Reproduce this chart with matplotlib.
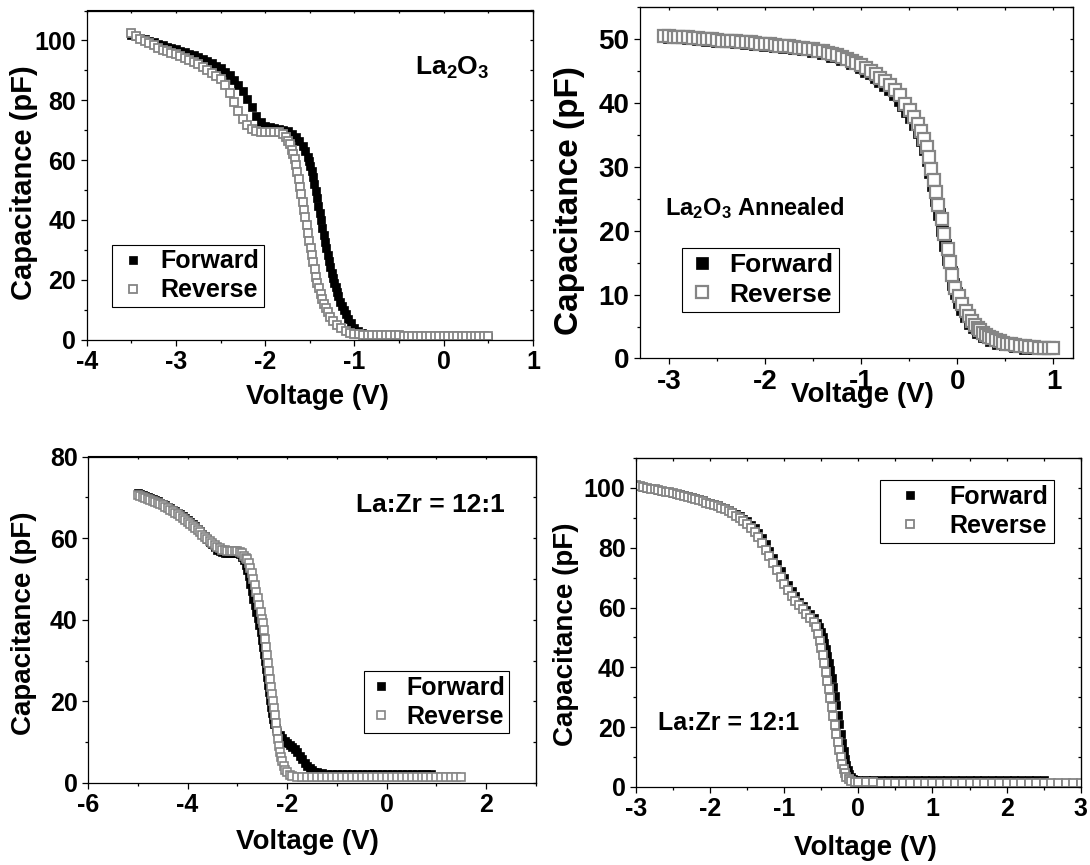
import matplotlib
matplotlib.use('Agg')
import matplotlib.pyplot as plt
from matplotlib.ticker import MultipleLocator

plt.rcParams['font.family'] = ['Liberation Sans', 'DejaVu Sans']
plt.rcParams['font.weight'] = 'bold'
plt.rcParams['axes.labelweight'] = 'bold'
plt.rcParams['axes.unicode_minus'] = False
plt.rcParams['mathtext.fontset'] = 'custom'
plt.rcParams['mathtext.rm'] = 'Liberation Sans:bold'
plt.rcParams['mathtext.it'] = 'Liberation Sans:bold'
plt.rcParams['mathtext.bf'] = 'Liberation Sans:bold'
plt.rcParams['mathtext.default'] = 'rm'

# ---------------- data (voltage V, capacitance pF) ----------------
series_labels = ["Forward", "Reverse"]
x_label = "Voltage (V)"
y_label = "Capacitance (pF)"
panel_titles = ["La$_2$O$_3$", "La$_2$O$_3$ Annealed", "La:Zr = 12:1", "La:Zr = 12:1"]

# Panel 1: La2O3
p1_fwd = [(-3.50,101.8),(-3.45,101.4),(-3.40,100.9),(-3.35,100.4),(-3.30,99.9),(-3.25,99.4),(-3.20,98.9),
          (-3.15,98.4),(-3.10,97.9),(-3.05,97.5),(-3.00,97.0),(-2.95,96.5),(-2.90,96.0),(-2.85,95.5),(-2.80,95.0),
          (-2.75,94.4),(-2.70,93.7),(-2.65,93.0),(-2.60,92.3),(-2.55,91.5),(-2.50,90.7),(-2.45,89.6),(-2.40,88.3),
          (-2.35,86.8),(-2.30,85.1),(-2.25,83.0),(-2.20,80.5),(-2.15,77.6),(-2.10,74.8),(-2.05,72.7),(-2.00,71.5),
          (-1.95,70.9),(-1.90,70.6),(-1.85,70.4),(-1.80,70.1),(-1.75,69.6),(-1.70,68.8),(-1.66,67.8),(-1.62,66.4),
          (-1.58,64.6),(-1.55,62.9),(-1.525,61.0),(-1.51,59.6),(-1.495,58.0),(-1.48,56.2),(-1.465,54.2),(-1.45,52.0),
          (-1.435,49.7),(-1.42,47.3),(-1.405,44.8),(-1.39,42.3),(-1.375,39.8),(-1.36,37.4),(-1.345,35.0),(-1.33,32.7),
          (-1.315,30.5),(-1.30,28.4),(-1.285,26.2),(-1.27,24.2),(-1.255,22.3),(-1.24,20.6),(-1.225,19.0),(-1.21,17.4),
          (-1.195,15.9),(-1.18,14.5),(-1.16,12.7),(-1.14,11.1),(-1.12,9.7),(-1.10,8.4),(-1.07,6.8),(-1.04,5.4),
          (-1.00,4.0),(-0.96,3.0),(-0.92,2.2),(-0.88,1.6),(-0.84,1.3),(-0.80,1.1),(-0.75,1.0),(-0.70,0.9),(-0.65,0.9),
          (-0.60,0.9),(-0.55,0.9),(-0.50,0.9),(-0.45,0.9),(-0.40,0.9),(-0.35,0.9),(-0.30,0.9),(-0.25,0.9),(-0.20,0.9),
          (-0.15,0.9),(-0.10,0.9),(-0.05,0.9),(0.00,0.9),(0.05,0.9),(0.10,0.9),(0.15,0.9),(0.20,0.9),(0.25,0.9),
          (0.30,0.9),(0.35,0.9),(0.40,0.9),(0.45,0.9),(0.50,0.9)]
p1_rev = [(-3.50,102.5),(-3.45,101.4),(-3.40,100.6),(-3.35,99.8),(-3.30,99.0),(-3.25,98.3),(-3.20,97.6),
          (-3.15,96.9),(-3.10,96.3),(-3.05,95.8),(-3.00,95.3),(-2.95,94.7),(-2.90,94.1),(-2.85,93.4),(-2.80,92.7),
          (-2.75,92.0),(-2.70,91.1),(-2.65,90.2),(-2.60,89.2),(-2.55,88.2),(-2.50,87.0),(-2.45,85.0),(-2.40,82.5),
          (-2.35,79.5),(-2.30,76.3),(-2.25,73.8),(-2.20,71.8),(-2.15,70.5),(-2.10,69.8),(-2.05,69.5),(-2.00,69.5),
          (-1.95,69.5),(-1.90,69.5),(-1.85,69.3),(-1.80,68.7),(-1.77,67.8),(-1.74,66.5),(-1.72,65.2),(-1.70,63.5),
          (-1.685,62.0),(-1.67,60.2),(-1.655,58.2),(-1.64,56.0),(-1.625,53.6),(-1.61,51.1),(-1.595,48.6),(-1.58,46.0),
          (-1.565,43.4),(-1.55,40.8),(-1.535,38.2),(-1.52,35.6),(-1.505,33.0),(-1.49,30.5),(-1.475,28.1),(-1.46,25.8),
          (-1.445,23.6),(-1.43,20.9),(-1.415,19.0),(-1.40,17.2),(-1.38,15.2),(-1.36,13.5),(-1.34,12.0),(-1.32,10.5),
          (-1.30,9.1),(-1.27,7.5),(-1.24,6.2),(-1.20,5.0),(-1.15,3.8),(-1.10,2.9),(-1.05,2.3),(-1.00,1.9),(-0.95,1.7),
          (-0.90,1.6),(-0.85,1.6),(-0.80,1.5),(-0.75,1.5),(-0.70,1.5),(-0.65,1.4),(-0.60,1.4),(-0.55,1.4),(-0.50,1.4),
          (-0.45,1.3),(-0.40,1.3),(-0.35,1.3),(-0.30,1.3),(-0.25,1.3),(-0.20,1.3),(-0.15,1.3),(-0.10,1.2),(-0.05,1.2),
          (0.00,1.2),(0.05,1.2),(0.10,1.2),(0.15,1.2),(0.20,1.2),(0.25,1.2),(0.30,1.2),(0.35,1.2),(0.40,1.2),
          (0.45,1.2),(0.50,1.2)]

# Panel 2: La2O3 annealed
p2_fwd = [(-3.00,50.4),(-2.90,50.3),(-2.80,50.2),(-2.70,50.1),(-2.60,49.9),(-2.50,49.8),(-2.40,49.7),(-2.30,49.6),
          (-2.20,49.4),(-2.10,49.3),(-2.00,49.1),(-1.90,49.0),(-1.80,48.8),(-1.70,48.6),(-1.60,48.4),(-1.50,48.1),
          (-1.40,47.8),(-1.30,47.4),(-1.20,46.9),(-1.10,46.3),(-1.00,45.6),(-0.95,45.1),(-0.90,44.7),(-0.85,44.1),
          (-0.80,43.5),(-0.75,42.9),(-0.70,42.2),(-0.65,41.4),(-0.60,40.5),(-0.56,39.7),(-0.52,38.8),(-0.48,37.8),
          (-0.44,36.7),(-0.40,35.4),(-0.37,34.2),(-0.34,32.8),(-0.31,31.1),(-0.28,29.2),(-0.25,27.1),(-0.22,24.9),
          (-0.19,22.6),(-0.16,20.2),(-0.13,17.8),(-0.10,15.6),(-0.07,13.5),(-0.04,11.7),(-0.01,10.2),(0.02,8.9),
          (0.05,7.8),(0.09,6.6),(0.13,5.6),(0.17,4.9),(0.22,4.1),(0.28,3.5),(0.35,2.9),(0.42,2.5),(0.50,2.2),
          (0.60,1.9),(0.70,1.7),(0.80,1.6),(0.90,1.6),(1.00,1.6)]
p2_rev = [(-3.05,50.5),(-3.00,50.5),(-2.95,50.4),(-2.90,50.4),(-2.85,50.3),(-2.80,50.3),(-2.75,50.2),(-2.70,50.2),
          (-2.65,50.1),(-2.60,50.0),(-2.55,50.0),(-2.50,49.9),(-2.45,49.8),(-2.40,49.8),(-2.35,49.7),(-2.30,49.7),
          (-2.25,49.6),(-2.20,49.5),(-2.15,49.5),(-2.10,49.4),(-2.05,49.3),(-2.00,49.3),(-1.95,49.2),(-1.90,49.1),
          (-1.85,49.0),(-1.80,49.0),(-1.75,48.9),(-1.70,48.8),(-1.65,48.7),(-1.60,48.6),(-1.55,48.5),(-1.50,48.4),
          (-1.45,48.2),(-1.40,48.1),(-1.35,47.9),(-1.30,47.7),(-1.25,47.5),(-1.20,47.2),(-1.15,46.9),(-1.10,46.6),
          (-1.05,46.3),(-1.00,45.9),(-0.95,45.5),(-0.90,45.1),(-0.85,44.6),(-0.80,44.0),(-0.75,43.4),(-0.70,42.8),
          (-0.65,42.0),(-0.60,41.2),(-0.543,39.9),(-0.496,38.9),(-0.453,37.8),(-0.409,36.8),(-0.373,35.7),
          (-0.344,34.4),(-0.315,33.1),(-0.297,31.5),(-0.272,29.7),(-0.247,27.9),(-0.225,26.0),(-0.200,24.0),
          (-0.164,21.9),(-0.135,19.5),(-0.099,17.2),(-0.081,15.1),(-0.055,13.0),(-0.019,11.1),(0.017,9.8),
          (0.053,8.5),(0.089,7.5),(0.12,6.6),(0.15,5.9),(0.18,5.3),(0.21,4.8),(0.24,4.4),(0.27,4.0),(0.30,3.7),
          (0.33,3.4),(0.36,3.2),(0.40,2.9),(0.44,2.7),(0.48,2.5),(0.52,2.3),(0.56,2.2),(0.60,2.1),(0.65,2.0),
          (0.70,1.9),(0.75,1.8),(0.80,1.8),(0.85,1.7),(0.90,1.7),(0.95,1.7),(1.00,1.7)]

# Panel 3: La:Zr = 12:1 (left)
p3_fwd = [(-5.00,71.0),(-4.95,70.7),(-4.90,70.5),(-4.85,70.3),(-4.80,70.0),(-4.75,69.8),(-4.70,69.5),(-4.65,69.3),
          (-4.60,69.0),(-4.55,68.7),(-4.50,68.4),(-4.45,68.1),(-4.40,67.7),(-4.35,67.4),(-4.30,67.0),(-4.25,66.6),
          (-4.20,66.2),(-4.15,65.8),(-4.10,65.3),(-4.05,64.9),(-4.00,64.4),(-3.95,63.9),(-3.90,63.4),(-3.85,62.9),
          (-3.80,62.3),(-3.75,61.7),(-3.70,61.1),(-3.65,60.5),(-3.60,59.8),(-3.55,59.1),(-3.50,58.5),(-3.45,57.8),
          (-3.40,57.2),(-3.35,56.8),(-3.30,56.5),(-3.25,56.4),(-3.20,56.4),(-3.15,56.4),(-3.10,56.4),(-3.05,56.4),
          (-3.00,56.3),(-2.95,56.0),(-2.90,55.4),(-2.86,54.6),(-2.83,53.5),(-2.80,52.2),(-2.77,50.6),(-2.74,48.8),
          (-2.71,47.0),(-2.68,45.2),(-2.65,43.5),(-2.62,41.9),(-2.59,40.4),(-2.56,38.8),(-2.53,37.0),(-2.50,35.0),
          (-2.48,33.4),(-2.46,31.6),(-2.44,29.8),(-2.42,27.9),(-2.40,26.0),(-2.38,24.1),(-2.36,22.2),(-2.34,20.4),
          (-2.32,18.7),(-2.30,17.1),(-2.28,15.7),(-2.26,14.5),(-2.23,13.4),(-2.20,12.6),(-2.15,11.7),(-2.10,11.0),
          (-2.05,10.4),(-2.00,9.9),(-1.95,9.4),(-1.90,8.9),(-1.85,8.3),(-1.80,7.6),(-1.75,6.7),(-1.70,5.8),
          (-1.65,4.9),(-1.60,4.2),(-1.55,3.6),(-1.50,3.1),(-1.45,2.8),(-1.40,2.6),(-1.30,2.4),(-1.20,2.3),
          (-1.10,2.2),(-1.00,2.2),(-0.90,2.2),(-0.80,2.2),(-0.70,2.2),(-0.60,2.2),(-0.50,2.2),(-0.40,2.2),
          (-0.30,2.2),(-0.20,2.2),(-0.10,2.2),(0.00,2.2),(0.10,2.2),(0.20,2.2),(0.30,2.2),(0.40,2.1),(0.50,2.1),
          (0.60,2.1),(0.70,2.1),(0.80,2.1),(0.90,2.1)]
p3_rev = [(-5.00,70.5),(-4.95,70.3),(-4.90,70.1),(-4.85,69.9),(-4.80,69.6),(-4.75,69.4),(-4.70,69.1),(-4.65,68.9),
          (-4.60,68.6),(-4.55,68.3),(-4.50,68.0),(-4.45,67.7),(-4.40,67.3),(-4.35,67.0),(-4.30,66.6),(-4.25,66.2),
          (-4.20,65.8),(-4.15,65.4),(-4.10,64.9),(-4.05,64.5),(-4.00,64.0),(-3.95,63.5),(-3.90,63.0),(-3.85,62.5),
          (-3.80,61.9),(-3.75,61.4),(-3.70,60.8),(-3.65,60.3),(-3.60,59.7),(-3.55,59.2),(-3.50,58.7),(-3.45,58.2),
          (-3.40,57.8),(-3.35,57.5),(-3.30,57.2),(-3.25,57.0),(-3.20,56.9),(-3.15,56.8),(-3.10,56.8),(-3.05,56.8),
          (-3.00,56.8),(-2.95,56.6),(-2.90,56.3),(-2.86,55.7),(-2.83,55.2),(-2.80,54.8),(-2.77,53.9),(-2.74,52.8),
          (-2.71,51.4),(-2.68,49.9),(-2.65,48.4),(-2.62,46.9),(-2.59,45.3),(-2.56,43.6),(-2.53,41.9),(-2.50,40.2),
          (-2.48,39.2),(-2.46,37.4),(-2.44,35.4),(-2.42,33.4),(-2.40,31.4),(-2.38,29.4),(-2.36,27.4),(-2.34,25.4),
          (-2.32,23.5),(-2.30,21.7),(-2.28,20.0),(-2.26,18.3),(-2.24,16.6),(-2.22,14.7),(-2.20,12.8),(-2.18,10.8),
          (-2.16,9.0),(-2.14,7.5),(-2.12,6.3),(-2.10,5.3),(-2.07,4.2),(-2.04,3.3),(-2.00,2.6),(-1.95,2.0),(-1.90,1.7),
          (-1.80,1.5),(-1.70,1.5),(-1.60,1.5),(-1.50,1.5),(-1.40,1.5),(-1.30,1.5),(-1.20,1.5),(-1.10,1.5),(-1.00,1.5),
          (-0.90,1.5),(-0.80,1.5),(-0.70,1.5),(-0.60,1.5),(-0.50,1.5),(-0.40,1.5),(-0.30,1.5),(-0.20,1.4),(-0.10,1.4),
          (0.00,1.4),(0.10,1.4),(0.20,1.4),(0.30,1.4),(0.40,1.4),(0.50,1.4),(0.60,1.4),(0.70,1.4),(0.80,1.4),
          (0.90,1.4),(1.00,1.4),(1.10,1.4),(1.20,1.4),(1.30,1.4),(1.40,1.4),(1.50,1.4)]

# Panel 4: La:Zr = 12:1 (right)
p4_fwd = [(-3.00,100.8),(-2.95,100.6),(-2.90,100.4),(-2.85,100.1),(-2.80,99.9),(-2.75,99.6),(-2.70,99.4),
          (-2.65,99.1),(-2.60,98.9),(-2.55,98.6),(-2.50,98.4),(-2.45,98.1),(-2.40,97.8),(-2.35,97.5),(-2.30,97.2),
          (-2.25,96.9),(-2.20,96.5),(-2.15,96.2),(-2.10,95.8),(-2.05,95.4),(-2.00,95.0),(-1.95,94.6),(-1.90,94.2),
          (-1.85,93.7),(-1.80,93.2),(-1.75,92.7),(-1.70,92.1),(-1.65,91.4),(-1.60,90.6),(-1.55,89.7),(-1.50,88.8),
          (-1.45,87.7),(-1.40,86.5),(-1.35,85.0),(-1.30,83.2),(-1.25,81.2),(-1.20,79.0),(-1.15,76.7),(-1.10,74.4),
          (-1.05,72.1),(-1.00,69.9),(-0.95,67.7),(-0.90,65.6),(-0.85,63.7),(-0.80,62.0),(-0.75,60.5),(-0.70,59.1),
          (-0.65,57.8),(-0.60,56.5),(-0.56,55.0),(-0.53,53.6),(-0.50,51.8),(-0.48,50.2),(-0.46,48.3),(-0.44,46.2),
          (-0.42,43.9),(-0.40,41.5),(-0.38,39.0),(-0.36,36.3),(-0.34,33.4),(-0.32,30.4),(-0.30,27.3),(-0.28,24.1),
          (-0.26,20.9),(-0.24,17.8),(-0.22,14.8),(-0.20,12.0),(-0.18,9.5),(-0.16,7.4),(-0.14,5.7),(-0.12,4.4),
          (-0.10,3.5),(-0.07,2.8),(-0.04,2.5),(0.00,2.4),(0.10,2.3),(0.20,2.3),(0.30,2.3),(0.40,2.3),(0.50,2.2),
          (0.60,2.2),(0.70,2.2),(0.80,2.2),(0.90,2.2),(1.00,2.2),(1.10,2.2),(1.20,2.2),(1.30,2.2),(1.40,2.2),
          (1.50,2.2),(1.60,2.2),(1.70,2.2),(1.80,2.2),(1.90,2.2),(2.00,2.2),(2.10,2.2),(2.20,2.2),(2.30,2.2),
          (2.40,2.2),(2.50,2.2)]
p4_rev = [(-3.00,101.0),(-2.95,100.6),(-2.90,100.3),(-2.85,100.0),(-2.80,99.7),(-2.75,99.5),(-2.70,99.2),
          (-2.65,98.9),(-2.60,98.7),(-2.55,98.5),(-2.50,98.2),(-2.45,97.9),(-2.40,97.6),(-2.35,97.3),(-2.30,97.0),
          (-2.25,96.6),(-2.20,96.3),(-2.15,95.9),(-2.10,95.5),(-2.05,95.1),(-2.00,94.7),(-1.95,94.3),(-1.90,93.8),
          (-1.85,93.3),(-1.80,92.8),(-1.75,92.2),(-1.70,91.5),(-1.65,90.7),(-1.60,89.8),(-1.55,88.9),(-1.50,87.9),
          (-1.45,86.7),(-1.40,85.3),(-1.35,83.6),(-1.30,81.6),(-1.25,79.4),(-1.20,77.1),(-1.15,74.8),(-1.10,72.5),
          (-1.05,70.2),(-1.00,68.0),(-0.95,65.9),(-0.90,64.0),(-0.85,62.3),(-0.80,60.8),(-0.75,59.4),(-0.70,58.0),
          (-0.65,56.6),(-0.60,55.2),(-0.57,53.5),(-0.54,51.0),(-0.52,48.8),(-0.50,46.5),(-0.48,44.0),(-0.46,41.3),
          (-0.44,38.5),(-0.42,35.6),(-0.40,32.6),(-0.38,29.6),(-0.36,26.6),(-0.34,23.6),(-0.32,20.6),(-0.30,17.7),
          (-0.28,14.9),(-0.26,12.3),(-0.24,9.9),(-0.22,7.8),(-0.20,6.0),(-0.18,4.6),(-0.16,3.5),(-0.13,2.6),
          (-0.10,2.1),(-0.05,1.8),(0.00,1.7),(0.10,1.6),(0.20,1.6),(0.30,1.5),(0.40,1.5),(0.50,1.5),(0.60,1.5),
          (0.70,1.5),(0.80,1.5),(0.90,1.5),(1.00,1.5),(1.10,1.4),(1.20,1.4),(1.30,1.4),(1.40,1.4),(1.50,1.4),
          (1.60,1.4),(1.70,1.4),(1.80,1.4),(1.90,1.4),(2.00,1.4),(2.10,1.4),(2.20,1.4),(2.30,1.4),(2.40,1.4),
          (2.50,1.4),(2.60,1.3),(2.70,1.3),(2.80,1.3),(2.90,1.3),(3.00,1.3)]

# ---------------- layout ----------------
W, H = 1090, 865
fig = plt.figure(figsize=(W / 100, H / 100), dpi=100)
GRAY = '#858585'


def add_ax(l, r, t, b):
    return fig.add_axes([l / W, 1 - b / H, (r - l) / W, (b - t) / H])


def style(ax, xlim, ylim, xmaj, xmin, ymaj, ymin, tfs):
    ax.set_xlim(*xlim)
    ax.set_ylim(*ylim)
    for s in ax.spines.values():
        s.set_linewidth(0.9)
    ax.xaxis.set_major_locator(MultipleLocator(xmaj))
    ax.xaxis.set_minor_locator(MultipleLocator(xmin))
    ax.yaxis.set_major_locator(MultipleLocator(ymaj))
    ax.yaxis.set_minor_locator(MultipleLocator(ymin))
    ax.tick_params(which='major', direction='out', length=4.5, width=0.9, labelsize=tfs)
    ax.tick_params(which='minor', direction='out', length=2.5, width=0.9)
    ax.tick_params(axis='x', pad=3)
    ax.tick_params(axis='y', pad=3)
    sx = ax.secondary_xaxis('top')
    sx.xaxis.set_major_locator(MultipleLocator(xmaj))
    sx.xaxis.set_minor_locator(MultipleLocator(xmin))
    sx.tick_params(which='both', direction='in', length=2.0, width=0.9, labeltop=False)
    sy = ax.secondary_yaxis('right')
    sy.yaxis.set_major_locator(MultipleLocator(ymaj))
    sy.yaxis.set_minor_locator(MultipleLocator(ymin))
    sy.tick_params(which='both', direction='in', length=2.0, width=0.9, labelright=False)


def draw(ax, fwd, rev, ms, mew):
    fv, fc = zip(*fwd)
    rv, rc = zip(*rev)
    ax.plot(fv, fc, ls='none', marker='s', ms=ms, mfc='black', mec='black', mew=0.5,
            label=series_labels[0])
    ax.plot(rv, rc, ls='none', marker='s', ms=ms, mfc='white', mec=GRAY, mew=mew,
            label=series_labels[1])


def legend(ax, anchor, fs, hl, htp, bp, ls):
    leg = ax.legend(loc='lower left', bbox_to_anchor=anchor, borderaxespad=0,
                    handlelength=hl, handletextpad=htp, borderpad=bp, labelspacing=ls,
                    frameon=True, fancybox=False, framealpha=1, edgecolor='black',
                    prop={'weight': 'bold', 'size': fs})
    leg.get_frame().set_linewidth(0.8)


def labels(ax, xfs, yfs, xpos, ypos):
    ax.set_xlabel(x_label, fontsize=xfs, va='center')
    ax.set_ylabel(y_label, fontsize=yfs, va='center')
    ax.xaxis.set_label_coords(*xpos)
    ax.yaxis.set_label_coords(*ypos)


# Panel 1
ax1 = add_ax(86.7, 533, 10.5, 339.5)
draw(ax1, p1_fwd, p1_rev, 6.2, 1.3)
style(ax1, (-4, 1), (0, 110), 1, 0.5, 20, 10, 18)
labels(ax1, 20, 21, (0.517, -0.175), (-0.140, 0.476))
legend(ax1, (0.057, 0.099), 18, 1.3, 0.45, 0.18, 0.2)
ax1.text(0.736, 0.804, panel_titles[0], transform=ax1.transAxes, fontsize=19,
         ha='left', va='baseline')

# Panel 2
ax2 = add_ax(640, 1072.7, 7.3, 358.5)
draw(ax2, p2_fwd, p2_rev, 8.0, 1.6)
style(ax2, (-3.3, 1.2), (0, 55), 1, 0.5, 10, 5, 20)
labels(ax2, 20, 24, (0.513, -0.104), (-0.164, 0.451))
legend(ax2, (0.097, 0.133), 19, 1.1, 0.5, 0.2, 0.2)
ax2.text(0.058, 0.409, panel_titles[1], transform=ax2.transAxes, fontsize=17,
         ha='left', va='baseline')

# Panel 3
ax3 = add_ax(88, 536, 456.5, 783)
draw(ax3, p3_fwd, p3_rev, 5.6, 1.2)
style(ax3, (-6, 3), (0, 80), 2, 1, 20, 10, 18)
labels(ax3, 20, 20, (0.489, -0.18), (-0.143, 0.489))
legend(ax3, (0.616, 0.153), 18, 1.0, 0.5, 0.18, 0.2)
ax3.text(0.93, 0.83, panel_titles[2], transform=ax3.transAxes, fontsize=19,
         ha='right', va='baseline')

# Panel 4
ax4 = add_ax(636, 1080.7, 458, 787)
draw(ax4, p4_fwd, p4_rev, 6.2, 1.3)
style(ax4, (-3, 3), (0, 110), 1, 0.5, 20, 10, 18)
labels(ax4, 20, 20, (0.517, -0.185), (-0.157, 0.465))
legend(ax4, (0.548, 0.743), 18, 2.0, 0.6, 0.2, 0.2)
ax4.text(0.049, 0.173, panel_titles[3], transform=ax4.transAxes, fontsize=18,
         ha='left', va='baseline')

fig.savefig('out.png', dpi=100)
